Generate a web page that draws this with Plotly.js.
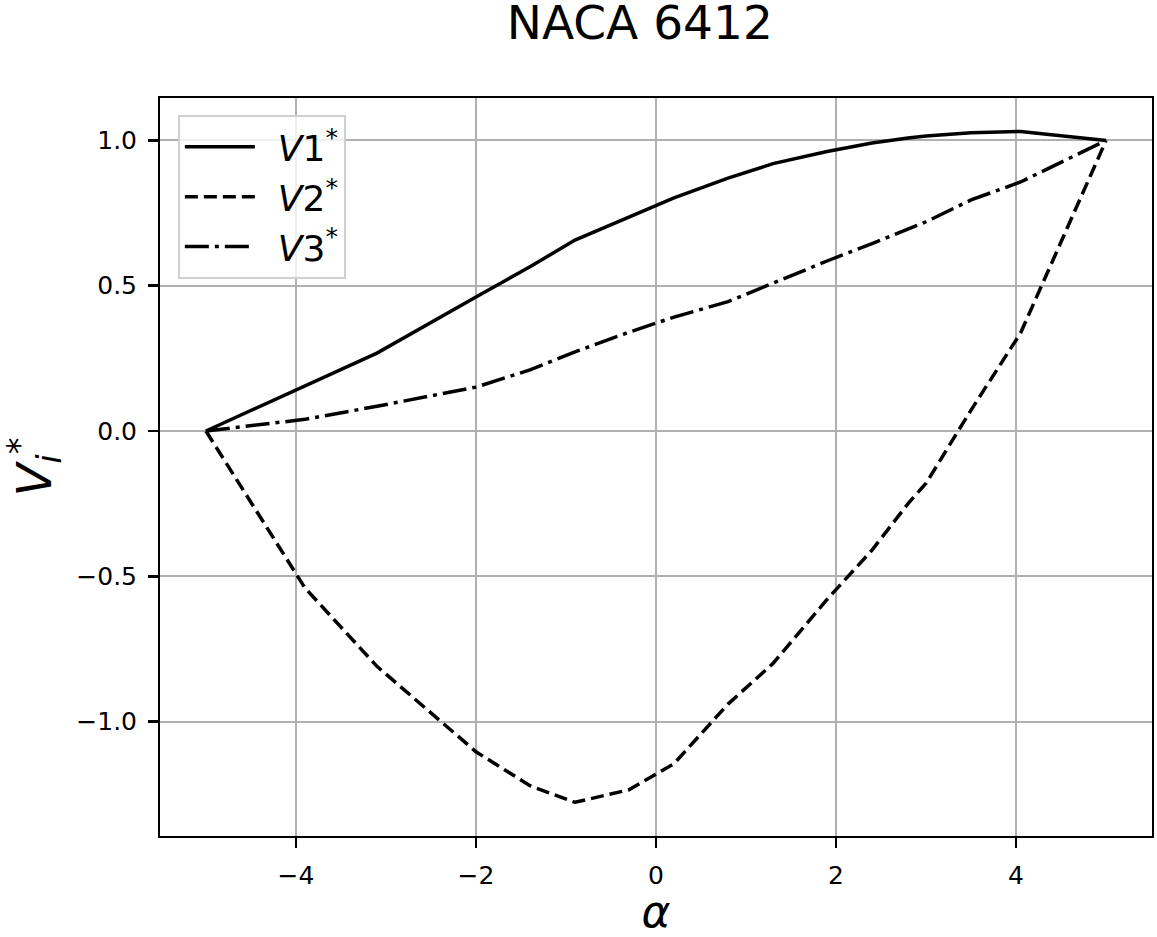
<!DOCTYPE html>
<html>
<head>
<meta charset="utf-8">
<script src="https://cdn.plot.ly/plotly-3.0.1.min.js"></script>
<style>
  html, body { margin: 0; padding: 0; background: #fff; }
  #chart { width: 1157px; height: 937px; }
</style>
</head>
<body>
<div id="chart"></div>
<script>
// angle of attack (deg) and normalised velocities
const alpha = [-5, -3.9, -3.1, -2.0, -1.4, -0.9, -0.3, 0.2, 0.8, 1.3, 1.9, 2.4, 2.8, 3.0, 3.5, 4.05, 5];
const v1 = [0, 0.155, 0.268, 0.461, 0.565, 0.657, 0.735, 0.802, 0.87, 0.92, 0.962, 0.991, 1.008, 1.015, 1.026, 1.031, 1.0];
const v2 = [0, -0.54, -0.81, -1.104, -1.221, -1.278, -1.235, -1.145, -0.94, -0.8, -0.58, -0.41, -0.25, -0.18, 0.072, 0.337, 1.0];
const v3 = [0, 0.04, 0.085, 0.151, 0.21, 0.272, 0.34, 0.392, 0.445, 0.51, 0.585, 0.645, 0.695, 0.72, 0.795, 0.857, 1.0];

const seriesNames = ['V1', 'V2', 'V3'];
const xTicks = [-4, -2, 0, 2, 4];
const xTickText = ['\u22124', '\u22122', '0', '2', '4'];
const yTicks = [-1.0, -0.5, 0.0, 0.5, 1.0];
const yTickText = ['\u22121.0', '\u22120.5', '0.0', '0.5', '1.0'];

// mathtext style: italic letter, upright digit, starred superscript
function legendName(s) {
    return '\u2002<i>' + s[0] + '</i>' + s.slice(1) + '<sup>*</sup>';
}

const lw = 3.5;
const dashes = ['solid', '13px,6px', '24px,6px,4px,6px'];
const ys = [v1, v2, v3];
const data = ys.map((y, i) => ({
    x: alpha, y: y, name: legendName(seriesNames[i]),
    type: 'scatter', mode: 'lines',
    line: { color: '#000', width: lw, dash: dashes[i] }
}));

const axisCommon = {
    showline: true, mirror: true, linecolor: '#000', linewidth: 2,
    ticks: 'outside', ticklen: 10, tickwidth: 2.5, tickcolor: '#000',
    ticklabelstandoff: 6,
    showgrid: true, gridcolor: '#b0b0b0', gridwidth: 2,
    zeroline: false,
    tickfont: { family: 'DejaVu Sans', size: 25, color: '#000' }
};

const layout = {
    width: 1157, height: 937,
    margin: { t: 98, b: 101, l: 160, r: 5 },
    paper_bgcolor: '#fff', plot_bgcolor: '#fff',
    font: { family: 'DejaVu Sans', color: '#000' },
    title: { text: 'NACA 6412', x: 0.553, xref: 'container', xanchor: 'center',
             y: 0.976, yref: 'container', yanchor: 'middle',
             font: { family: 'DejaVu Sans', size: 47, color: '#000' } },
    xaxis: Object.assign({}, axisCommon, {
        range: [-5.51, 5.51], tickvals: xTicks, ticktext: xTickText,
        title: { text: '<i>\u03b1</i>', standoff: 18, font: { family: 'DejaVu Sans', size: 44, color: '#000' } }
    }),
    yaxis: Object.assign({}, axisCommon, {
        range: [-1.394, 1.146], tickvals: yTicks, ticktext: yTickText,
        title: { text: '<i>V</i><sub><i>i</i></sub><sup>*</sup>', standoff: 16,
                 font: { family: 'DejaVu Sans', size: 48, color: '#000' } }
    }),
    showlegend: true,
    legend: {
        x: 0.018, y: 0.977, xanchor: 'left', yanchor: 'top',
        bgcolor: 'rgba(255,255,255,0.8)', bordercolor: '#d0d0d0', borderwidth: 2,
        font: { family: 'DejaVu Sans', size: 36, color: '#000' },
        itemwidth: 70, tracegroupgap: 0
    }
};

Plotly.newPlot('chart', data, layout, { displayModeBar: false, staticPlot: true });
</script>
</body>
</html>
